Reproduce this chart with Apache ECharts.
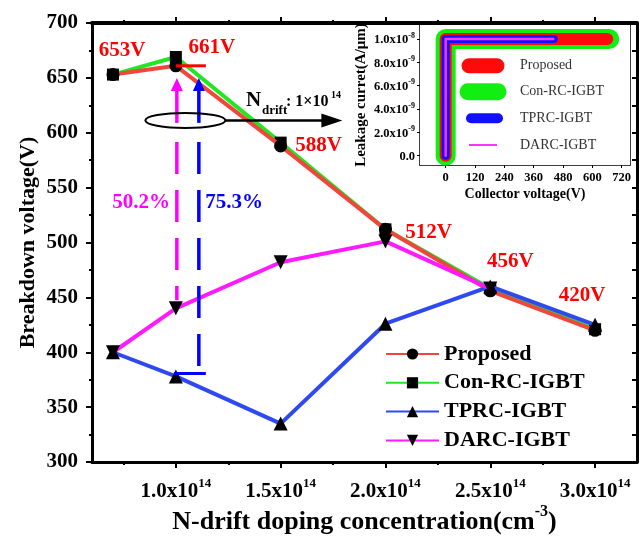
<!DOCTYPE html>
<html><head><meta charset="utf-8">
<script src="https://cdn.jsdelivr.net/npm/echarts@6/dist/echarts.min.js"></script>
<style>html,body{margin:0;padding:0;background:#fff}#c{width:640px;height:536px}</style>
</head><body><div id="c"></div>
<script>
// ---------- data ----------
const dopingX = [0.7, 1.0, 1.5, 2.0, 2.5, 3.0];
const proposed = [653, 661, 588, 512, 456, 420];
const conRC = [653, 669, 591, 512, 458, 421];
const tprc = [400, 378, 335, 426, 460, 425];
const darcX = [0.7, 1.0, 1.5, 2.0, 2.5];
const darc = [400, 440, 482, 501, 458];
const seriesNames = ['Proposed', 'Con-RC-IGBT', 'TPRC-IGBT', 'DARC-IGBT'];
const xTickValues = [1.0, 1.5, 2.0, 2.5, 3.0];
const xMinorTickValues = [0.75, 1.25, 1.75, 2.25, 2.75];
const improvementTexts = ['50.2%', '75.3%'];
const ndriftText = ['N', 'drift', ': 1×10', '14'];
// inset
const insetVoltageTicks = [0, 120, 240, 360, 480, 600, 720];
const insetCurrentTicks = [0, 2e-9, 4e-9, 6e-9, 8e-9, 1e-8];
const insetLeakage = 1e-8;
const insetEndProposed = 661;
const insetEndConRC = 669;
const insetEndTPRC = 442;
const insetEndDARC = 440;

// ---------- styles ----------
const F = "'Liberation Serif','Times New Roman',serif";
const C_RED = '#f0463c', C_GREEN = '#22e622', C_BLUE = '#2f49f2', C_MAG = '#ff1aff';
const DOWN_TRI = 'path://M0,0L10,0L5,9Z';
const labelOffsets = [[9, -24], [36, -18], [38, 0], [43, 3], [20, -29], [-13, -35]];

const chart = echarts.init(document.getElementById('c'), null, {renderer: 'canvas'});
const pairs = (xs, ys) => xs.map((x, i) => [x, ys[i]]);
const inset = (end) => [[0, 0], [0, insetLeakage], [end, insetLeakage]];

const blackLine = (w) => ({show: true, onZero: false, lineStyle: {color: '#000', width: w}});
const mainX = {gridIndex: 0, type: 'value', min: 0.6, max: 3.2, splitLine: {show: false}};
const mainY = {gridIndex: 0, type: 'value', min: 300, max: 700, interval: 50, splitLine: {show: false}};
const insX = {gridIndex: 1, type: 'value', min: -105, max: 754, splitLine: {show: false}};
const insY = {gridIndex: 1, type: 'value', min: -0.8e-9, max: 1.12e-8, splitLine: {show: false}};

function expLabel(v) {
  if (Math.abs(v) < 1e-15) return '{b|0.0}';
  const e = Math.floor(Math.log10(v) + 1e-9);
  const m = v / Math.pow(10, e);
  return '{b|' + m.toFixed(1) + 'x10}{s|' + e + '}';
}

const option = {
  animation: false,
  backgroundColor: '#fff',
  grid: [
    {left: 92, right: 3, top: 23, bottom: 74, outerBoundsMode: 'none', containLabel: false},
    {left: 420, top: 25, width: 210, height: 140, show: true, backgroundColor: '#fff', borderWidth: 0, z: 5, outerBoundsMode: 'none', containLabel: false}
  ],
  legend: {
    orient: 'vertical', left: 385, top: 343, padding: 0,
    itemWidth: 53, itemHeight: 14, itemGap: 6.8,
    data: seriesNames,
    textStyle: {fontFamily: F, fontSize: 22, fontWeight: 'bold', color: '#000', lineHeight: 22}
  },
  xAxis: [
    Object.assign({}, mainX, {
      position: 'bottom', axisLine: blackLine(3),
      axisTick: {show: true, customValues: xTickValues, length: 6, lineStyle: {color: '#000', width: 2}},
      axisLabel: {
        customValues: xTickValues, margin: 15,
        formatter: v => '{b|' + v.toFixed(1) + 'x10}{s|14}',
        rich: {
          b: {fontFamily: F, fontSize: 21, fontWeight: 'bold', color: '#000', verticalAlign: 'bottom', lineHeight: 25},
          s: {fontFamily: F, fontSize: 13, fontWeight: 'bold', color: '#000', verticalAlign: 'top', lineHeight: 13}
        }
      },
      name: '{t|N-drift doping concentration(cm}{s|-3}{t|)}',
      nameLocation: 'middle', nameGap: 42, nameMoveOverlap: false,
      nameTextStyle: {
        rich: {
          t: {fontFamily: F, fontSize: 26, fontWeight: 'bold', color: '#000', verticalAlign: 'bottom', lineHeight: 31},
          s: {fontFamily: F, fontSize: 16, fontWeight: 'bold', color: '#000', verticalAlign: 'top', lineHeight: 16}
        }
      }
    }),
    Object.assign({}, mainX, {
      position: 'bottom', axisLine: {show: false, onZero: false}, axisLabel: {show: false},
      axisTick: {show: true, customValues: xMinorTickValues, length: 3, lineStyle: {color: '#000', width: 2}}
    }),
    Object.assign({}, mainX, {
      position: 'top', axisLine: blackLine(4), axisLabel: {show: false},
      axisTick: {show: true, customValues: xTickValues, length: 6, lineStyle: {color: '#000', width: 2}}
    }),
    Object.assign({}, mainX, {
      position: 'top', axisLine: {show: false, onZero: false}, axisLabel: {show: false},
      axisTick: {show: true, customValues: xMinorTickValues, length: 3, lineStyle: {color: '#000', width: 2}}
    }),
    Object.assign({}, insX, {
      position: 'bottom', axisLine: blackLine(1.5),
      axisTick: {show: true, customValues: insetVoltageTicks, length: 3, lineStyle: {color: '#000', width: 1}},
      axisLabel: {customValues: insetVoltageTicks, margin: 6, fontFamily: F, fontSize: 12.5, fontWeight: 'bold', color: '#000'},
      name: 'Collector voltage(V)', nameLocation: 'middle', nameGap: 22,
      nameTextStyle: {fontFamily: F, fontSize: 14, fontWeight: 'bold', color: '#000'}
    }),
    Object.assign({}, insX, {
      position: 'top', axisLine: blackLine(1.5), axisLabel: {show: false},
      axisTick: {show: true, inside: true, customValues: insetVoltageTicks, length: 3, lineStyle: {color: '#000', width: 1}}
    })
  ],
  yAxis: [
    Object.assign({}, mainY, {
      position: 'left', axisLine: blackLine(3),
      axisTick: {show: true, length: 6, lineStyle: {color: '#000', width: 2}},
      minorTick: {show: true, splitNumber: 2, length: 3, lineStyle: {color: '#000', width: 2}},
      axisLabel: {margin: 14, fontFamily: F, fontSize: 21, fontWeight: 'bold', color: '#000'},
      name: 'Breakdown voltage(V)', nameLocation: 'middle', nameGap: 53, nameMoveOverlap: false,
      nameTextStyle: {fontFamily: F, fontSize: 22, fontWeight: 'bold', color: '#000'}
    }),
    Object.assign({}, mainY, {
      position: 'right', axisLine: blackLine(3), axisLabel: {show: false},
      axisTick: {show: true, inside: true, length: 5, lineStyle: {color: '#000', width: 2}},
      minorTick: {show: true, splitNumber: 2, length: 5, lineStyle: {color: '#000', width: 2}}
    }),
    Object.assign({}, insY, {
      position: 'left', axisLine: blackLine(1.5),
      axisTick: {show: true, customValues: insetCurrentTicks, length: 3, lineStyle: {color: '#000', width: 1}},
      axisLabel: {
        customValues: insetCurrentTicks, margin: 5, formatter: expLabel,
        rich: {
          b: {fontFamily: F, fontSize: 12.5, fontWeight: 'bold', color: '#000', verticalAlign: 'bottom', lineHeight: 15},
          s: {fontFamily: F, fontSize: 8, fontWeight: 'bold', color: '#000', verticalAlign: 'top', lineHeight: 8}
        }
      },
      name: 'Leakage curret(A/μm)', nameLocation: 'middle', nameGap: 51,
      nameTextStyle: {fontFamily: F, fontSize: 15, fontWeight: 'bold', color: '#000'}
    }),
    Object.assign({}, insY, {
      position: 'right', axisLine: blackLine(1.5), axisLabel: {show: false},
      axisTick: {show: true, inside: true, customValues: insetCurrentTicks, length: 3, lineStyle: {color: '#000', width: 1}}
    })
  ],
  series: [
    {
      name: 'Con-RC-IGBT', type: 'line', xAxisIndex: 0, yAxisIndex: 0, z: 2,
      data: pairs(dopingX, conRC), symbol: 'rect', symbolSize: 12,
      itemStyle: {color: '#000'}, lineStyle: {color: C_GREEN, width: 4}
    },
    {
      name: 'Proposed', type: 'line', xAxisIndex: 0, yAxisIndex: 0, z: 3,
      data: pairs(dopingX, proposed).map((v, i) => ({
        value: v,
        label: {show: true, position: 'inside', offset: labelOffsets[i]}
      })),
      symbol: 'circle', symbolSize: 13,
      itemStyle: {color: '#000'}, lineStyle: {color: C_RED, width: 4},
      label: {formatter: p => p.value[1] + 'V', fontFamily: F, fontSize: 21, fontWeight: 'bold', color: '#ff0000'}
    },
    {
      name: 'TPRC-IGBT', type: 'line', xAxisIndex: 0, yAxisIndex: 0, z: 4,
      data: pairs(dopingX, tprc), symbol: 'triangle', symbolSize: 14,
      itemStyle: {color: '#000'}, lineStyle: {color: C_BLUE, width: 4}
    },
    {
      name: 'DARC-IGBT', type: 'line', xAxisIndex: 0, yAxisIndex: 0, z: 5,
      data: pairs(darcX, darc), symbol: DOWN_TRI, symbolSize: 14,
      itemStyle: {color: '#000'}, lineStyle: {color: C_MAG, width: 4}
    },
    {
      name: 'inset-Con-RC-IGBT', type: 'line', xAxisIndex: 4, yAxisIndex: 2, z: 6, silent: true,
      data: inset(insetEndConRC), symbol: 'none',
      lineStyle: {color: '#11ee11', width: 20, cap: 'round', join: 'round'}
    },
    {
      name: 'inset-Proposed', type: 'line', xAxisIndex: 4, yAxisIndex: 2, z: 7, silent: true,
      data: inset(insetEndProposed), symbol: 'none',
      lineStyle: {color: '#ff0a0a', width: 12, cap: 'round', join: 'round'}
    },
    {
      name: 'inset-TPRC-IGBT', type: 'line', xAxisIndex: 4, yAxisIndex: 2, z: 8, silent: true,
      data: inset(insetEndTPRC), symbol: 'none',
      lineStyle: {color: '#1010ff', width: 8, cap: 'round', join: 'round'}
    },
    {
      name: 'inset-DARC-IGBT', type: 'line', xAxisIndex: 4, yAxisIndex: 2, z: 9, silent: true,
      data: inset(insetEndDARC), symbol: 'none',
      lineStyle: {color: '#ff33ff', width: 2.5, cap: 'round', join: 'round'}
    }
  ]
};
chart.setOption(option);

// ---------- annotations ----------
const P = (x, y) => chart.convertToPixel({xAxisIndex: 0, yAxisIndex: 0}, [x, y]);
const a = P(dopingX[1], proposed[1]);
const tipY = P(dopingX[1], 650)[1];
const darcPt = P(darcX[1], darc[1]);
const tprcPt = P(dopingX[1], tprc[1]);
const mx = a[0] + 1, bx = a[0] + 23;
const g = [];
g.push({type: 'line', z: 100, shape: {x1: a[0], y1: a[1], x2: a[0] + 30, y2: a[1]}, style: {stroke: '#ff0000', lineWidth: 3}});
function arrow(x, bottomY, color) {
  g.push({type: 'polygon', z: 100, shape: {points: [[x - 6, tipY + 13], [x, tipY], [x + 6, tipY + 13]]}, style: {fill: color}});
  g.push({type: 'line', z: 100, shape: {x1: x, y1: tipY + 12, x2: x, y2: tipY + 45}, style: {stroke: color, lineWidth: 3.5}});
  g.push({type: 'line', z: 100, shape: {x1: x, y1: tipY + 64, x2: x, y2: bottomY}, style: {stroke: color, lineWidth: 3.5, lineDash: [32, 16]}});
}
arrow(mx, darcPt[1] - 8, '#ff00ff');
arrow(bx, tprcPt[1] - 3, '#0000ff');
g.push({type: 'line', z: 100, shape: {x1: tprcPt[0] - 2, y1: tprcPt[1] - 3, x2: bx + 7, y2: tprcPt[1] - 3}, style: {stroke: '#0000ff', lineWidth: 3}});
const ecx = a[0] + 9.5, ecy = tipY + 42.5;
g.push({type: 'ellipse', z: 100, shape: {cx: ecx, cy: ecy, rx: 40, ry: 7.5}, style: {stroke: '#000', lineWidth: 2, fill: null}});
g.push({type: 'line', z: 100, shape: {x1: ecx + 40, y1: ecy, x2: ecx + 140, y2: ecy}, style: {stroke: '#000', lineWidth: 2.5}});
g.push({type: 'polygon', z: 100, shape: {points: [[ecx + 136, ecy - 7], [ecx + 157, ecy], [ecx + 136, ecy + 7]]}, style: {fill: '#000'}});
const txt = (x, y, s, size, color, align, bold) => ({
  type: 'text', z: 100, x: x, y: y,
  style: {text: s, fill: color, font: (bold === false ? '' : 'bold ') + size + 'px ' + F, textAlign: align || 'left', textVerticalAlign: 'middle'}
});
g.push(txt(246, 101, ndriftText[0], 21, '#000'));
g.push(txt(262, 111, ndriftText[1], 13, '#000'));
g.push(txt(286, 102, ndriftText[2], 16, '#000'));
g.push(txt(331, 95, ndriftText[3], 10, '#000'));
g.push(txt(141, 203, improvementTexts[0], 21, '#ff00ff', 'center'));
g.push(txt(234, 203, improvementTexts[1], 21, '#0000ff', 'center'));
// inset legend
const legRows = [65.7, 91.7, 118.3, 145];
const legSty = [
  {c: '#ff0a0a', w: 15, x1: 469, x2: 497, cap: 'round'},
  {c: '#11ee11', w: 17, x1: 468, x2: 498, cap: 'round'},
  {c: '#1010ff', w: 10, x1: 471, x2: 498, cap: 'round'},
  {c: '#ff33ff', w: 2, x1: 469, x2: 497, cap: 'butt'}
];
seriesNames.forEach((n, i) => {
  const s = legSty[i];
  g.push({type: 'line', z: 100, shape: {x1: s.x1, y1: legRows[i], x2: s.x2, y2: legRows[i]}, style: {stroke: s.c, lineWidth: s.w, lineCap: s.cap}});
  g.push(txt(520, legRows[i], n, 14, '#333', 'left', false));
});
chart.setOption({graphic: g});
</script>
</body></html>
